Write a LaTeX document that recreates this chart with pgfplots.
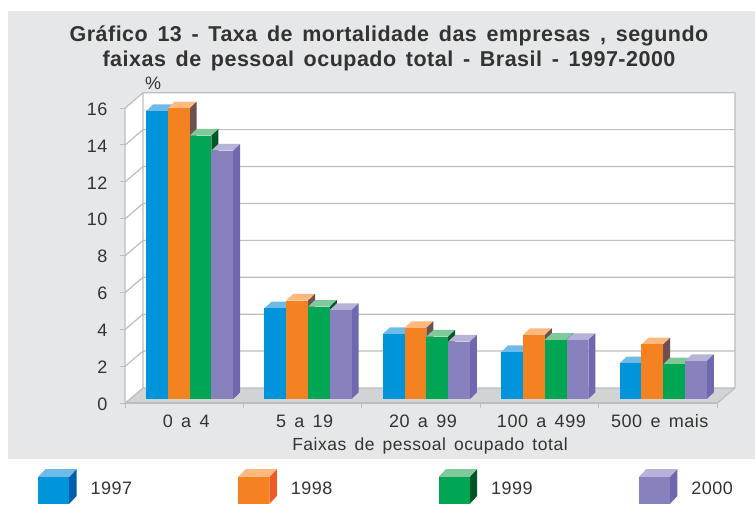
\documentclass[border=0pt]{standalone}
\usepackage{pgfplots}
\usepackage{pgfplotstable}
\usepackage{fontspec}
\setmainfont[LetterSpace=3,WordSpace=1.5]{Liberation Sans}
\pgfplotsset{compat=1.18}

\definecolor{panel}{HTML}{E6E7E8}
\definecolor{floorc}{HTML}{D1D3D4}
\definecolor{gridc}{HTML}{BCBEC0}
\definecolor{ink}{HTML}{333333}
\definecolor{blueF}{HTML}{0095DA}\definecolor{blueT}{HTML}{6FBBE8}\definecolor{blueS}{HTML}{005FAB}
\definecolor{orgF}{HTML}{F58220}\definecolor{orgT}{HTML}{FDB97E}\definecolor{orgS}{HTML}{6D5050}\definecolor{orgL}{HTML}{F15A22}
\definecolor{grnF}{HTML}{00A651}\definecolor{grnT}{HTML}{80C99A}\definecolor{grnS}{HTML}{005826}
\definecolor{purF}{HTML}{8781BD}\definecolor{purT}{HTML}{B7B2D8}\definecolor{purS}{HTML}{6F68AE}

\pgfplotstableread{
x y
0 15.60
1 4.91
2 3.52
3 2.55
4 1.93
}\tabA
\pgfplotstableread{
x y
0 15.75
1 5.33
2 3.85
3 3.47
4 2.96
}\tabB
\pgfplotstableread{
x y
0 14.27
1 5.00
2 3.38
3 3.21
4 1.88
}\tabC
\pgfplotstableread{
x y
0 13.46
1 4.82
2 3.11
3 3.20
4 2.06
}\tabD

% a 3d bar, drawn from each point at the bar's top centre: 18.45pt per unit of y
\pgfplotsset{
  cube/.style n args={3}{
    scatter, only marks, mark size=0pt, draw=none, fill=none,
    visualization depends on={rawy \as \vv},
    scatter/@pre marker code/.code={%
      \pgfmathsetlengthmacro\hh{\vv*18.45pt}%
      \fill[#2] (-10.9pt,0pt) -- ++(7pt,6.7pt) -- ++(21.8pt,0pt) -- ++(-7pt,-6.7pt) -- cycle;
      \fill[#3] (10.9pt,0pt) -- ++(7pt,6.7pt) -- ++(0pt,-\hh) -- ++(-7pt,-6.7pt) -- cycle;
      \fill[#1] (-10.9pt,0pt) rectangle (10.9pt,-\hh);
      \pgfscope
    },
    scatter/@post marker code/.code={\endpgfscope},
  },
}
\newcommand{\legcube}[3]{%
  \fill[#3] (31pt,-15.3pt) -- ++(7.3pt,7.7pt) -- ++(0pt,27pt) -- ++(-7.3pt,-7.7pt) -- cycle;
  \fill[#2] (0pt,11.7pt) -- ++(7.3pt,7.7pt) -- ++(31pt,0pt) -- ++(-7.3pt,-7.7pt) -- cycle;
  \fill[#1] (0pt,-15.3pt) rectangle (31pt,11.7pt);
}

\begin{document}
\begin{tikzpicture}[x=1pt,y=1pt]
\path[use as bounding box] (0,0) rectangle (755,504);
% panel and the chart's walls, y counted from the bottom of the page
\fill[panel] (8,45) rectangle (755,493);
\fill[white] (143,116) rectangle (735,411.3);
\fill[white] (125,100.7) -- (143,116) -- (143,411.3) -- (125,395.7) -- cycle;
\fill[floorc] (125,100.7) -- (717,100.7) -- (735,116) -- (143,116) -- cycle;
\foreach \k in {1,...,8}{
  \pgfmathsetmacro\yb{116+36.91*\k}
  \pgfmathsetmacro\yf{100.7+36.875*\k}
  \draw[gridc,line width=1.2pt] (125,\yf) -- (143,\yb) -- (735,\yb);
}
\draw[gridc,line width=1.2pt] (125,395.7) -- (125,100.7) -- (143,116) -- (143,411.3) (143,116) -- (735,116) -- (735,411.3) (735,116) -- (717,100.7);
\draw[gridc,line width=1.8pt] (125,100.7) -- (717,100.7);
\begin{axis}[
  at={(125pt,100.7pt)}, anchor=south west,
  scale only axis, width=610pt, height=310.6pt,
  xmin=-0.5456, xmax=4.6064, ymin=-0.233, ymax=16.6,
  clip=false,
  axis line style={draw=none},
  tick align=outside, tick pos=left,
  major tick length=5pt,
  tick style={gridc,line width=1pt},
  xtick={-0.5456,0.4544,1.4544,2.4544,3.4544,4.4544},
  x tick label as interval,
  xticklabels={0 a 4,5 a 19,20 a 99,100 a 499,500 e mais},
  ytick={-0.233,1.767,3.767,5.767,7.767,9.767,11.767,13.767,15.767},
  yticklabels={0,2,4,6,8,10,12,14,16},
  tick label style={font=\fontsize{18}{20}\selectfont,text=ink},
  xticklabel style={yshift=-3pt,xshift=2pt},
  yticklabel style={xshift=-9pt,yshift=-1pt},
  xlabel={Faixas de pessoal ocupado total},
  xlabel style={font=\fontsize{17.5}{20}\selectfont,text=ink,yshift=-3pt},
  ylabel={\%},
  ylabel style={font=\fontsize{18}{20}\selectfont,text=ink,rotate=-90,at={(rel axis cs:0.046,1.031)},anchor=center},
  title={Gráfico 13 - Taxa de mortalidade das empresas , segundo\\faixas de pessoal ocupado total - Brasil - 1997-2000},
  title style={font=\fontsize{21.5}{24.4}\selectfont\bfseries\addfontfeatures{LetterSpace=2.3},text=ink,align=center,at={(rel axis cs:0.4328,1.04)},anchor=south},
  legend style={draw=none,fill=none,inner sep=0pt,font=\fontsize{18}{20}\selectfont,text=ink,
    legend columns=4,at={(-87pt,-100.7pt)},anchor=south west,
    /tikz/every even column/.append style={column sep=104.3pt},
    /tikz/every odd column/.append style={column sep=12pt}},
  legend cell align=left,
]
\addplot[cube={blueF}{blueT}{blueS},legend image code/.code={\legcube{blueF}{blueT}{blueS}}] table[x expr=\thisrow{x}-0.2761,y=y] {\tabA};
\addlegendentry{1997}
\addplot[cube={orgF}{orgT}{orgS},legend image code/.code={\legcube{orgF}{orgT}{orgL}}] table[x expr=\thisrow{x}-0.092,y=y] {\tabB};
\addlegendentry{1998}
\addplot[cube={grnF}{grnT}{grnS},legend image code/.code={\legcube{grnF}{grnT}{grnS}}] table[x expr=\thisrow{x}+0.092,y=y] {\tabC};
\addlegendentry{1999}
\addplot[cube={purF}{purT}{purS},legend image code/.code={\legcube{purF}{purT}{purS}}] table[x expr=\thisrow{x}+0.2761,y=y] {\tabD};
\addlegendentry{2000}
\end{axis}
\end{tikzpicture}
\end{document}
